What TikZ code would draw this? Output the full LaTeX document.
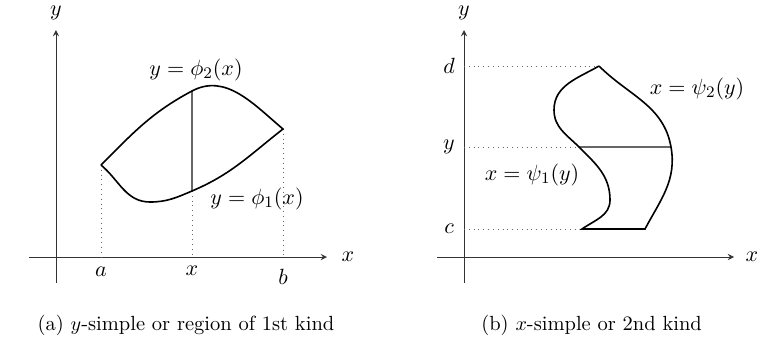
\documentclass[tikz,border=0pt]{standalone}
\usepackage{amsmath,amssymb}
\usepackage{tikz}
\tikzset{
 rg axis/.style={-stealth,black!80},
 rg boundary/.style={thick},
 rg slice/.style={semithick,black!60},
 rg proj/.style={dotted,black!60},
 rg tick label/.style={inner sep=1pt,font=\fontsize{11.2}{13}\selectfont},
 rg curve label/.style={inner sep=1pt,font=\fontsize{11.2}{13}\selectfont},
 rg caption/.style={font=\fontsize{10.2}{12}\selectfont}
}

\begin{document}
\begin{tikzpicture}[x=.7cm,y=.7cm]
 \useasboundingbox (-1.4,-2.275) rectangle (17.55,6.425);

 \coordinate (o1) at (0,0);
 \coordinate (xs1) at (-.675,0);
 \coordinate (xe1) at (6.775,0);
 \coordinate (ys1) at (0,-.65);
 \coordinate (ye1) at (0,5.675);
 \coordinate (pA) at (1.125,2.3);
 \coordinate (pB) at (5.675,3.2);
 \coordinate (pT) at (3.4,4.15);
 \coordinate (pS) at (3.4,1.65);
 \coordinate (pM) at (2.35,1.375);

 \draw[rg axis] (xs1)--(xe1);
 \draw[rg axis] (ys1)--(ye1);
 \node[rg tick label] (xl1) at (7.3,0) {$x$};
 \node[rg tick label] (yl1) at (0,6.1) {$y$};
 \foreach \p in {pA,pB,pS} \draw[rg proj] (\p)--(\p |- o1);
 \draw[rg slice] (pS)--(pT);
 \draw[rg boundary] (pA) to[out=45,in=208] (pT) to[out=28,in=140] (pB)
   to[out=218,in=23] (pS) to[out=203,in=0] (pM) to[out=180,in=-40] (pA);
 \node[rg tick label] (la) at (1.125,-.375) {$a$};
 \node[rg tick label] (lx) at (3.4,-.35) {$x$};
 \node[rg tick label] (lb) at (5.675,-.5) {$b$};
 \node[rg curve label] (phi2) at (3.5,4.675) {$y=\phi_2(x)$};
 \node[rg curve label] (phi1) at (5.025,1.45) {$y=\phi_1(x)$};
 \node[rg caption] (capa) at (3.25,-1.7) {(a) $y$-simple or region of 1st kind};

 \begin{scope}[shift={(10.2,0)}]
  \coordinate (o2) at (0,0);
  \coordinate (xs2) at (-.675,0);
  \coordinate (xe2) at (6.75,0);
  \coordinate (ys2) at (0,-.65);
  \coordinate (ye2) at (0,5.675);
  \coordinate (qD) at (3.375,4.775);
  \coordinate (qL) at (2.25,3.675);
  \coordinate (qP) at (2.875,2.75);
  \coordinate (qR) at (3.65,1.425);
  \coordinate (qC) at (2.95,.7);
  \coordinate (qE) at (4.525,.7);
  \coordinate (qQ) at (5.175,2.75);

  \draw[rg axis] (xs2)--(xe2);
  \draw[rg axis] (ys2)--(ye2);
  \node[rg tick label] (xl2) at (7.2,0) {$x$};
  \node[rg tick label] (yl2) at (0,6.1) {$y$};
  \foreach \p in {qD,qP,qC} \draw[rg proj] (o2 |- \p)--(\p);
  \draw[rg slice] (qP)--(qQ);
  \draw[rg boundary] (qD) to[out=210,in=90] (qL) to[out=270,in=135] (qP)
    to[out=-45,in=90] (qR) to[out=270,in=35] (qC) -- (qE)
    to[out=62,in=-80] (qQ) to[out=100,in=-45] (qD);
  \node[rg tick label] (ld) at (-.375,4.775) {$d$};
  \node[rg tick label] (ly) at (-.375,2.75) {$y$};
  \node[rg tick label] (lc) at (-.375,.7) {$c$};
  \node[rg curve label] (psi2) at (5.825,4.2) {$x=\psi_2(y)$};
  \node[rg curve label] (psi1) at (1.7,2.05) {$x=\psi_1(y)$};
  \node[rg caption] (capb) at (3.19,-1.7) {(b) $x$-simple or 2nd kind};
 \end{scope}
\end{tikzpicture}
\end{document}
